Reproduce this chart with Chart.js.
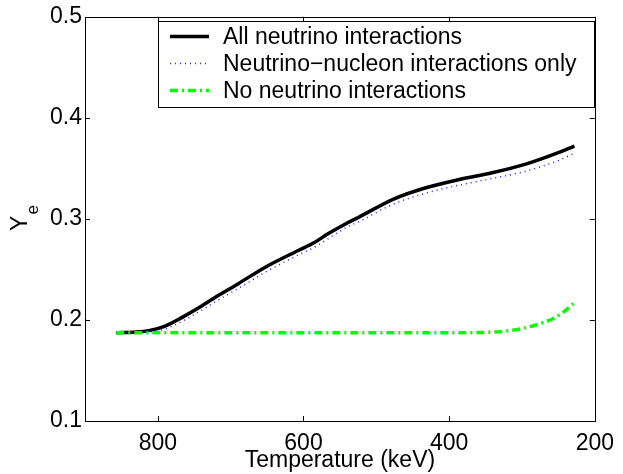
<!DOCTYPE html>
<html><head><meta charset="utf-8">
<script src="https://cdn.jsdelivr.net/npm/chart.js@4.4.0/dist/chart.umd.min.js"></script>
<style>html,body{margin:0;padding:0;background:#fff;}</style>
</head><body>
<canvas id="c" width="623" height="474" style="width:623px;height:474px;display:block"></canvas>
<script>
// ---- data ----
const xTicks = [800, 600, 400, 200];
const yTicks = [0.1, 0.2, 0.3, 0.4, 0.5];
const seriesNames = ["All neutrino interactions", "Neutrino\u2212nucleon interactions only", "No neutrino interactions"];
const allT = [857, 830, 811, 790, 766, 745, 721, 690, 653, 608, 585, 567, 540, 522, 477, 432, 386, 341, 296, 251, 228];
const allY = [0.1874, 0.188, 0.1897, 0.194, 0.2028, 0.2115, 0.2225, 0.2357, 0.252, 0.2685, 0.2767, 0.285, 0.296, 0.3025, 0.3194, 0.3308, 0.339, 0.3456, 0.3539, 0.3653, 0.372];
const nucT = [857, 830, 811, 790, 766, 745, 721, 690, 653, 608, 585, 567, 540, 522, 477, 432, 386, 341, 296, 251, 228];
const nucY = [0.1874, 0.1872, 0.188, 0.191, 0.199, 0.2075, 0.218, 0.231, 0.247, 0.264, 0.272, 0.280, 0.292, 0.298, 0.3145, 0.3255, 0.3335, 0.340, 0.347, 0.3575, 0.365];
const noneT = [857, 750, 650, 550, 450, 360, 335, 314, 283, 255, 240, 229];
const noneY = [0.1874, 0.1873, 0.1873, 0.1873, 0.1873, 0.1875, 0.1882, 0.1897, 0.1946, 0.2022, 0.2095, 0.2165];
const xLabel = "Temperature (keV)";
const yLabelMain = "Y";
const yLabelSub = "e";

const FONT = '"Liberation Sans", Arial, Helvetica, sans-serif';
const pts = (xs, ys) => xs.map((x, i) => ({x: x, y: ys[i]}));

Chart.defaults.color = '#000';
Chart.defaults.font.family = FONT;

const framePlugin = {
  id: 'frame',
  afterDatasetsDraw(chart) {
    const {ctx, chartArea: a, scales} = chart;
    ctx.save();
    ctx.strokeStyle = '#000';
    ctx.lineWidth = 1;
    ctx.beginPath();
    const tl = 5;
    xTicks.forEach(v => {
      const px = Math.round(scales.x.getPixelForValue(v)) + 0.5;
      ctx.moveTo(px, a.bottom); ctx.lineTo(px, a.bottom - tl);
      ctx.moveTo(px, a.top); ctx.lineTo(px, a.top + tl);
    });
    yTicks.forEach(v => {
      const py = Math.round(scales.y.getPixelForValue(v)) + 0.5;
      ctx.moveTo(a.left, py); ctx.lineTo(a.left + tl, py);
      ctx.moveTo(a.right, py); ctx.lineTo(a.right - tl, py);
    });
    ctx.stroke();
    ctx.strokeRect(Math.round(a.left) + 0.5, Math.round(a.top) + 0.5, Math.round(a.right - a.left), Math.round(a.bottom - a.top));
    ctx.restore();
  },
  afterDraw(chart) {
    const {ctx, chartArea: a} = chart;
    ctx.save();
    // legend
    const bx = 158, by = 21, bw = 436, bh = 86;
    ctx.fillStyle = '#fff';
    ctx.fillRect(bx, by, bw, bh);
    ctx.strokeStyle = '#000';
    ctx.lineWidth = 1;
    ctx.strokeRect(bx + 0.5, by + 0.5, bw, bh);
    const rows = [36.5, 63.5, 90.5];
    chart.data.datasets.forEach((ds, i) => {
      const y = rows[i];
      ctx.beginPath();
      ctx.strokeStyle = ds.borderColor;
      ctx.lineWidth = ds.borderWidth;
      ctx.setLineDash(ds.borderDash || []);
      ctx.moveTo(170, y); ctx.lineTo(209, y);
      ctx.stroke();
      ctx.setLineDash([]);
      ctx.fillStyle = '#000';
      ctx.font = '23px ' + FONT;
      ctx.textBaseline = 'middle';
      ctx.textAlign = 'left';
      ctx.fillText(ds.label, 223, y + 1);
    });
    // y label
    ctx.translate(27, (a.top + a.bottom) / 2 + 12);
    ctx.rotate(-Math.PI / 2);
    ctx.fillStyle = '#000';
    ctx.textBaseline = 'alphabetic';
    ctx.textAlign = 'left';
    ctx.font = '23px ' + FONT;
    ctx.fillText(yLabelMain, 0, 0);
    const w = ctx.measureText(yLabelMain).width;
    ctx.font = '17px ' + FONT;
    ctx.fillText(yLabelSub, w + 1, 11);
    ctx.restore();
  }
};

new Chart(document.getElementById('c'), {
  type: 'line',
  data: {
    datasets: [
      {label: seriesNames[0], data: pts(allT, allY), borderColor: '#000000', borderWidth: 3.5, pointRadius: 0, cubicInterpolationMode: 'monotone', order: 3},
      {label: seriesNames[1], data: pts(nucT, nucY), borderColor: '#2020ff', borderWidth: 1.5, borderDash: [1, 4], pointRadius: 0, cubicInterpolationMode: 'monotone', order: 2},
      {label: seriesNames[2], data: pts(noneT, noneY), borderColor: '#00ff00', borderWidth: 3.5, borderDash: [8, 4, 2, 4], pointRadius: 0, cubicInterpolationMode: 'monotone', order: 1}
    ]
  },
  options: {
    responsive: false,
    animation: false,
    devicePixelRatio: 1,
    layout: {padding: {left: 0, right: 22, top: 15, bottom: 0}},
    plugins: {legend: {display: false}, tooltip: {enabled: false}},
    scales: {
      x: {
        type: 'linear', reverse: true, min: 200, max: 900,
        grid: {display: false, drawTicks: false}, border: {display: false},
        afterBuildTicks: s => { s.ticks = xTicks.map(v => ({value: v})); },
        afterFit: s => { s.height = 53; },
        ticks: {font: {size: 23, family: FONT}, color: '#000', padding: 9, maxRotation: 0, autoSkip: false, callback: v => String(v)},
        title: {display: true, text: xLabel, font: {size: 23, family: FONT}, color: '#000', padding: {top: 0, bottom: 0}}
      },
      y: {
        type: 'linear', min: 0.1, max: 0.5,
        grid: {display: false, drawTicks: false}, border: {display: false},
        afterBuildTicks: s => { s.ticks = yTicks.map(v => ({value: v})); },
        afterFit: s => { s.width = 85; },
        ticks: {font: {size: 23, family: FONT}, color: '#000', padding: 3, autoSkip: false, callback: v => Number(v).toFixed(1)}
      }
    }
  },
  plugins: [framePlugin]
});
</script>
</body></html>
